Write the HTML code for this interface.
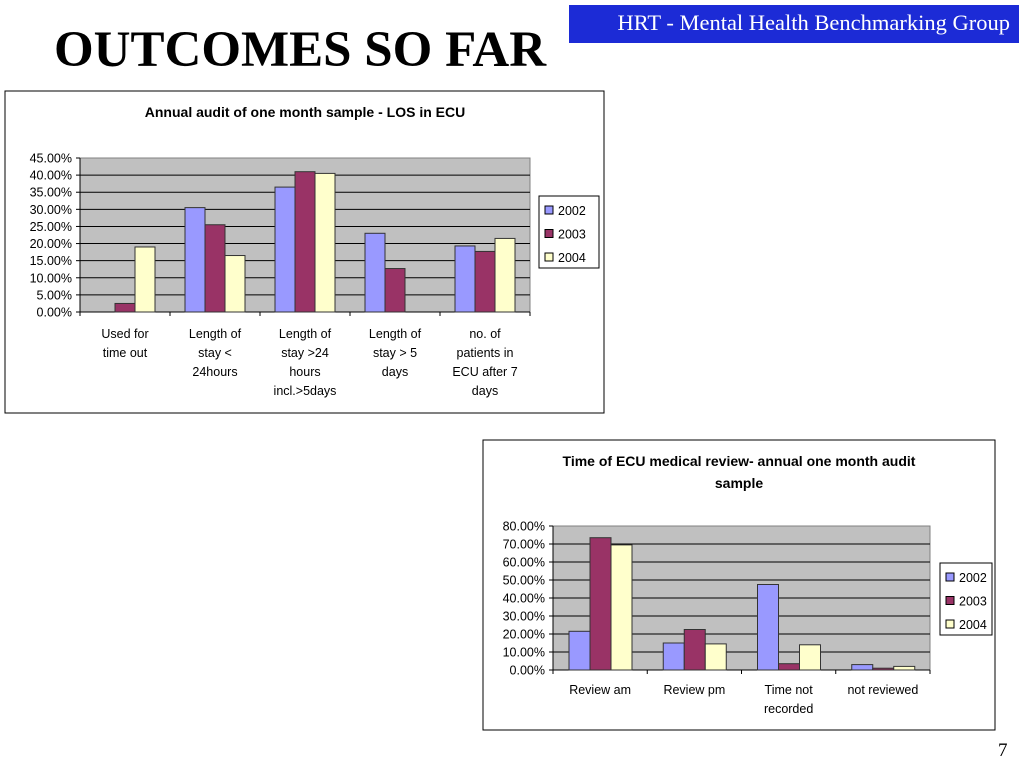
<!DOCTYPE html>
<html><head><meta charset="utf-8"><style>
body{margin:0;width:1024px;height:768px;background:#fff;position:relative;overflow:hidden;font-family:"Liberation Sans",sans-serif}
#hdr{position:absolute;left:569px;top:5px;width:441px;padding-right:9px;height:38px;background:#1c2bd6;color:#fff;font:22.5px "Liberation Serif",serif;text-align:right;line-height:36px}
#title{position:absolute;left:54px;top:21px;font:bold 51px "Liberation Serif",serif;color:#000}
#pg{position:absolute;left:998px;top:740px;font:19px "Liberation Serif",serif}
svg{position:absolute;left:0;top:0}
</style></head><body>
<div id="hdr">HRT - Mental Health Benchmarking Group</div>
<div id="title">OUTCOMES SO FAR</div>
<div id="pg">7</div>
<svg id="s" width="1024" height="768"></svg>
<script>
const c1Cats=[["Used for","time out"],["Length of","stay <","24hours"],["Length of","stay >24","hours","incl.>5days"],["Length of","stay > 5","days"],["no. of","patients in","ECU after 7","days"]];
const c1S2002=[0,30.5,36.5,23,19.3];
const c1S2003=[2.5,25.5,41,12.7,17.7];
const c1S2004=[19,16.5,40.5,0,21.5];
const c1Ticks=[0,5,10,15,20,25,30,35,40,45];
const c2Cats=[["Review am"],["Review pm"],["Time not","recorded"],["not reviewed"]];
const c2S2002=[21.5,15,47.5,3];
const c2S2003=[73.5,22.5,3.5,1];
const c2S2004=[69.5,14.5,14,2];
const c2Ticks=[0,10,20,30,40,50,60,70,80];
const years=["2002","2003","2004"];
const colors=["#9999ff","#993366","#ffffcc"];
const svg=document.getElementById('s');const NS="http://www.w3.org/2000/svg";
function el(t,a,txt){const e=document.createElementNS(NS,t);for(const k in a)e.setAttribute(k,a[k]);if(txt!=null)e.textContent=txt;svg.appendChild(e);return e;}
function chart(o){
  let b=el('rect',{x:o.bx,y:o.by,width:o.bw,height:o.bh,fill:'#fff',stroke:'#000','stroke-width':1});
  
  o.title.forEach((t,i)=>{let e=el('text',{x:o.tx,y:o.ty+i*22,'text-anchor':'middle','font-size':14,'font-weight':'bold'},t);});
  const max=o.ticks[o.ticks.length-1];
  const y=v=>o.y1-(v/max)*(o.y1-o.y0);
  let p=el('rect',{x:o.x0,y:o.y0,width:o.x1-o.x0,height:o.y1-o.y0,fill:'#c0c0c0',stroke:'#808080'});
  
  o.ticks.forEach(t=>{
    if(t>0&&t<max){let g=el('line',{x1:o.x0,x2:o.x1,y1:y(t),y2:y(t),stroke:'#000'});}
    el('line',{x1:o.x0-4,x2:o.x0,y1:y(t),y2:y(t),stroke:'#000'});
    let l=el('text',{x:o.x0-8,y:y(t)+4.5,'text-anchor':'end','font-size':12.5},t.toFixed(2)+'%');
    
  });
  el('line',{x1:o.x0,x2:o.x0,y1:o.y0,y2:o.y1,stroke:'#000'});
  el('line',{x1:o.x0,x2:o.x1,y1:o.y1,y2:o.y1,stroke:'#000'});
  const n=o.cats.length,cw=(o.x1-o.x0)/n;
  for(let i=0;i<=n;i++)el('line',{x1:o.x0+i*cw,x2:o.x0+i*cw,y1:o.y1,y2:o.y1+4,stroke:'#000'});
  o.series.forEach((s,si)=>s.forEach((v,i)=>{
    const x=o.x0+i*cw+cw*o.off+si*cw*o.bwf;
    let r=el('rect',{x:x,y:y(v),width:cw*o.bwf,height:y(0)-y(v),fill:colors[si],stroke:'#333','stroke-width':1});
    
  }));
  o.cats.forEach((c,i)=>c.forEach((t,j)=>{let e=el('text',{x:o.x0+(i+.5)*cw,y:o.ly+j*19,'text-anchor':'middle','font-size':12.5},t);}));
  let lg=el('rect',{x:o.lx,y:o.lyy,width:o.lw,height:72,fill:'#fff',stroke:'#000'});
  
  years.forEach((yr,k)=>{
    el('rect',{x:o.lx+6,y:o.lyy+10+k*23.5,width:8,height:8,fill:colors[k],stroke:'#000'});
    let e=el('text',{x:o.lx+19,y:o.lyy+19+k*23.5,'font-size':12.5},yr);
  });
}
chart({name:'los-chart',bx:5,by:91,bw:599,bh:322,tx:305,ty:117,title:["Annual audit of one month sample - LOS in ECU"],x0:80,x1:530,y0:158,y1:312,ticks:c1Ticks,cats:c1Cats,series:[c1S2002,c1S2003,c1S2004],off:15/90,bwf:20/90,ly:338,lx:539,lyy:196,lw:60});
chart({name:'review-chart',bx:483,by:440,bw:512,bh:290,tx:739,ty:466,title:["Time of ECU medical review- annual one month audit","sample"],x0:553,x1:930,y0:526,y1:670,ticks:c2Ticks,cats:c2Cats,series:[c2S2002,c2S2003,c2S2004],off:16/94.25,bwf:21/94.25,ly:694,lx:940,lyy:563,lw:52});
</script>
</body></html>
